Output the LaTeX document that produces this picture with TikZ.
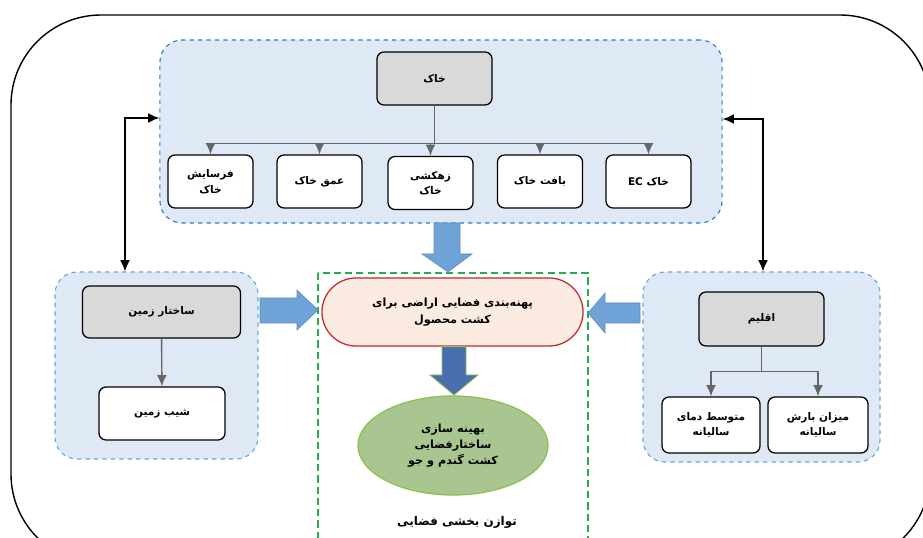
\documentclass[tikz,border=0pt]{standalone}
\usepackage{fontspec}
\setmainfont{DejaVu Sans}
\newfontfamily\arabicfont[Script=Arabic]{DejaVu Sans}
\TeXXeTstate=1
\usetikzlibrary{arrows.meta,shapes.geometric}

\definecolor{panelblue}{HTML}{DEE9F5}
\definecolor{dashdark}{HTML}{2B7CCB}
\definecolor{dashlight}{HTML}{6AA6DD}
\definecolor{boxgray}{HTML}{D9D9D9}
\definecolor{arrowblue}{HTML}{6FA3D8}
\definecolor{arrowdark}{HTML}{4A6DAE}
\definecolor{peach}{HTML}{FCEBE1}
\definecolor{stadiumred}{HTML}{C0282D}
\definecolor{olive}{HTML}{A9C690}
\definecolor{olivedge}{HTML}{8CC152}
\definecolor{greenline}{HTML}{23AD4F}

\newcommand{\fa}[1]{\beginR #1\endR}

\tikzset{
	panel/.style={draw=dashlight, dashed, fill=panelblue, rounded corners=0.55cm, line width=0.8pt, inner sep=0pt},
	headbox/.style={draw, fill=boxgray, rounded corners=5pt, line width=0.9pt, minimum height=1.325cm, font=\arabicfont\bfseries\fontsize{7.5}{11}\selectfont},
	leafbox/.style={draw, fill=white, rounded corners=5pt, line width=0.9pt, align=center, minimum width=2.125cm, minimum height=1.325cm, font=\arabicfont\bfseries\fontsize{7.5}{11}\selectfont},
	branch/.style={draw=black!60, -{Latex[length=8pt,width=7pt]}, line width=1pt},
	dbl/.style={{Latex[length=8pt,width=7pt]}-{Latex[length=8pt,width=7pt]}, line width=1.1pt},
	blockarrow/.style={fill=arrowblue, draw=arrowblue!85!black, line width=0.4pt}
}

\begin{document}
\begin{tikzpicture}[x=0.025cm, y=-0.025cm]
	\useasboundingbox (0,0) rectangle (923,538);
	\clip (0,0) rectangle (923,538);

	% outer frame
	\draw[line width=1pt, rounded corners=2.25cm] (11,15) rectangle (930,564);

	% three blue panels
	\node[panel, draw=dashdark, minimum width=14.05cm, minimum height=4.575cm] (soilpanel) at (441,131.5) {};
	\node[panel, minimum width=5.075cm, minimum height=4.675cm] (landpanel) at (156.5,365.5) {};
	\node[panel, minimum width=5.925cm, minimum height=4.75cm] (climatepanel) at (761.5,367) {};

	% soil
	\node[headbox, minimum width=2.875cm] (soil) at (434.5,78.5) {\fa{خاک}};
	\node[leafbox] (erosion) at (210.5,181.5) {\fa{فرسایش}\\\fa{خاک}};
	\node[leafbox] (depth) at (319.5,181.5) {\fa{عمق خاک}};
	\node[leafbox] (drainage) at (430.5,183) {\fa{زهکشی}\\\fa{خاک}};
	\node[leafbox] (texture) at (540,181.5) {\fa{بافت خاک}};
	\node[leafbox] (ec) at (648.5,181.5) {\fa{خاک \beginL EC\endL}};
	\foreach \leaf in {erosion,depth,drainage,texture,ec}
	{
		\draw[branch] (soil.south) -- ++(0,38) -| (\leaf.north);
	}

	% land
	\node[headbox, minimum width=3.95cm, minimum height=1.3cm] (land) at (161.5,312) {\fa{ساختار زمین}};
	\node[leafbox, minimum width=3.15cm] (slope) at (162,413.5) {\fa{شیب زمین}};
	\draw[branch] (land) -- (slope);

	% climate
	\node[headbox, minimum width=3.125cm, minimum height=1.35cm] (climate) at (761.5,319) {\fa{اقلیم}};
	\node[leafbox, minimum width=2.45cm, minimum height=1.4cm] (temp) at (711,425) {\fa{متوسط دمای}\\\fa{سالیانه}};
	\node[leafbox, minimum width=2.5cm, minimum height=1.4cm] (rain) at (818,425) {\fa{میزان بارش}\\\fa{سالیانه}};
	\foreach \leaf in {temp,rain}
	{
		\draw[branch] (climate.south) -- ++(0,25) -| (\leaf.north);
	}

	% links between panels
	\draw[dbl] (soilpanel.west |- 0,118) -| (landpanel.north -| 125,0);
	\draw[dbl] (soilpanel.east |- 0,119) -| (climatepanel.north -| 763,0);

	% balance frame
	\draw[greenline, line width=1.2pt, dash pattern=on 5pt off 3pt] (318,273) rectangle (588,560);

	% block arrows
	\draw[blockarrow] (434,223) -- (460,223) -- (460,254) -- (472,254) -- (448,272) -- (422,254) -- (434,254) -- cycle;
	\draw[blockarrow] (260,298) -- (297,298) -- (297,290) -- (318,310) -- (297,330) -- (297,323) -- (260,323) -- cycle;
	\draw[blockarrow] (640,303) -- (605,303) -- (605,293) -- (588,313) -- (605,333) -- (605,323) -- (640,323) -- cycle;

	% zoning and optimisation
	\node[draw=stadiumred, fill=peach, line width=0.9pt, rounded corners=0.85cm, minimum width=6.525cm, minimum height=1.7cm, align=center, font=\arabicfont\bfseries\fontsize{8}{12}\selectfont] (zoning) at (452.5,312) {\fa{پهنه‌بندی فضایی اراضی برای}\\\fa{کشت محصول}};
	\node[ellipse, draw=olivedge, fill=olive, line width=0.9pt, minimum width=4.75cm, minimum height=2.475cm, align=center, font=\arabicfont\bfseries\fontsize{8}{11.5}\selectfont] (optimum) at (453,445.5) {\fa{بهینه سازی}\\\fa{ساختارفضایی}\\\fa{کشت گندم و جو}};
	\draw[fill=arrowdark, draw=olivedge, line width=0.6pt] (zoning.south -| 442,0) -- (zoning.south -| 466,0) -- (466,375) -- (478,375) -- (454,395) -- (430,375) -- (442,375) -- cycle;

	\node[font=\arabicfont\bfseries\fontsize{8.5}{11}\selectfont] (balance) at (457,522) {\fa{توازن بخشی فضایی}};
\end{tikzpicture}
\end{document}
